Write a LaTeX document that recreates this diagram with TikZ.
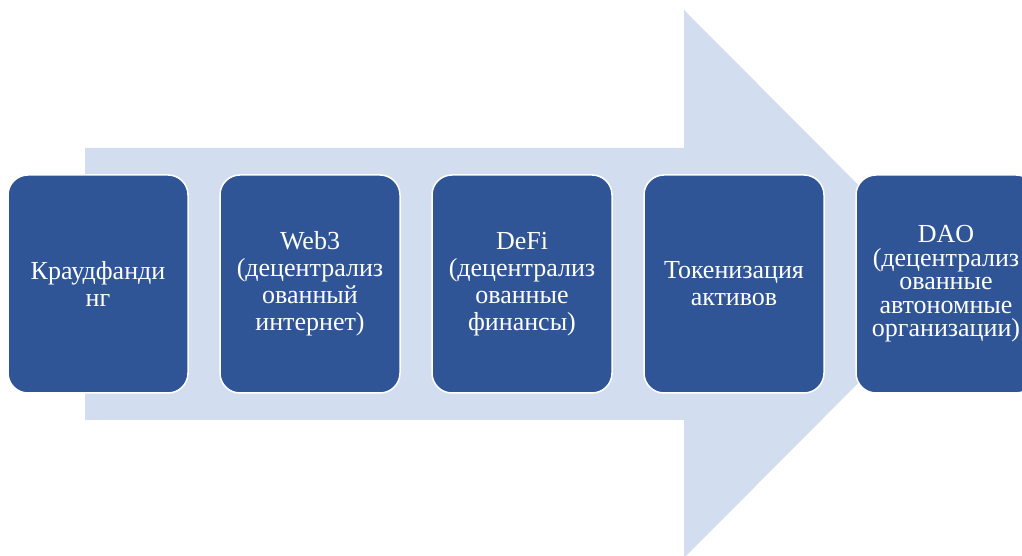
\documentclass[tikz,border=0pt]{standalone}
\usepackage{fontspec}
\setmainfont{Liberation Serif}
\usetikzlibrary{positioning}
\definecolor{stagefill}{HTML}{2F5597}
\definecolor{arrowfill}{HTML}{D2DEEF}
\begin{document}
\begin{tikzpicture}[x=1pt,y=1pt,
  stage/.style={draw=white,line width=1.5pt,fill=stagefill,rounded corners=20pt,
    minimum width=180pt,minimum height=218pt,inner sep=0pt,text=white,align=center,
    font=\fontsize{26}{27}\selectfont}]
\useasboundingbox (0,0) rectangle (1022,556);
\clip (0,0) rectangle (1022,556);
\fill[arrowfill] (85,136) -- (85,408) -- (684,408) -- (684,546) -- (957,272) -- (684,-2) -- (684,136) -- cycle;
\node[stage] (crowd) at (98,272) {Краудфанди\\нг};
\node[stage,right=30.5pt of crowd] (web) {Web3\\(децентрализ\\ованный\\интернет)};
\node[stage,right=30.5pt of web] (defi) {DeFi\\(децентрализ\\ованные\\финансы)};
\node[stage,right=30.5pt of defi] (token) {Токенизация\\активов};
\node[stage,right=30.5pt of token,font=\fontsize{26}{23.5}\selectfont] (dao) {DAO\\(децентрализ\\ованные\\автономные\\организации)};
\end{tikzpicture}
\end{document}
